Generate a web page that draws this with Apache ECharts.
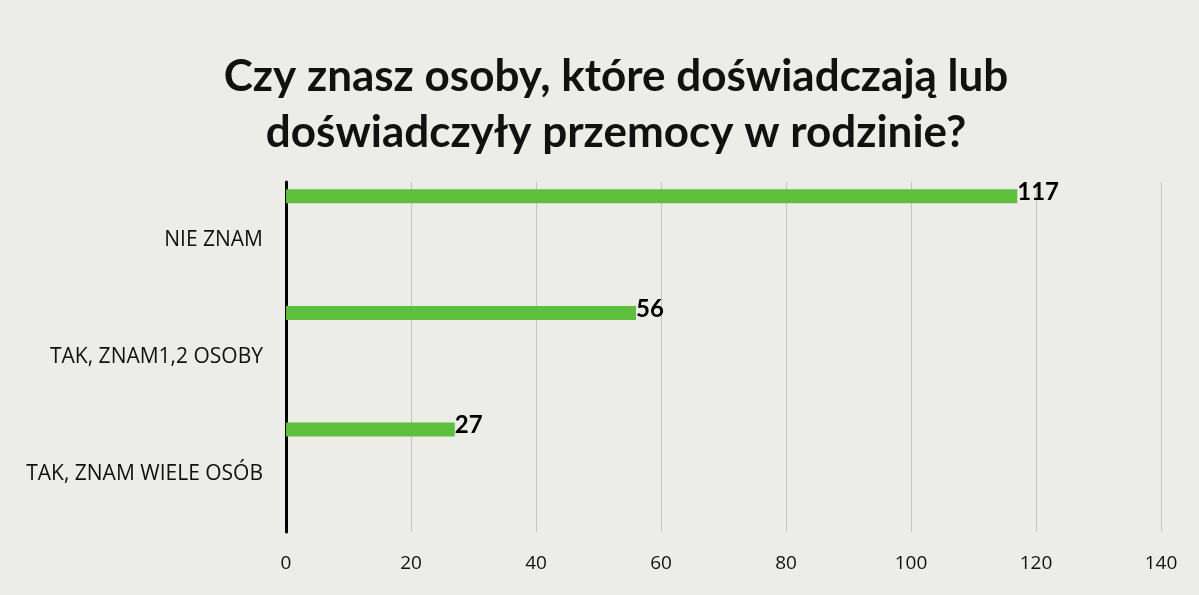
<!DOCTYPE html>
<html>
<head>
<meta charset="utf-8">
<script src="https://cdn.jsdelivr.net/npm/echarts@6/dist/echarts.min.js"></script>
<style>
  html, body { margin: 0; padding: 0; background: #ecece9; }
  #chart { width: 1199px; height: 595px; }
</style>
</head>
<body>
<div id="chart"></div>
<script>
const titleText = 'Czy znasz osoby, które doświadczają lub\ndoświadczyły przemocy w rodzinie?';
const categories = ['NIE ZNAM', 'TAK, ZNAM1,2 OSOBY', 'TAK, ZNAM WIELE OSÓB'];
const answers = [117, 56, 27];
const xTicks = { min: 0, max: 140, step: 20 };

let chart = echarts.init(document.getElementById('chart'));

let option = {
  backgroundColor: '#ecece9',
  title: {
    text: titleText,
    left: 611,
    textAlign: 'center',
    top: 44,
    textStyle: {
      fontFamily: 'Lato',
      fontWeight: 'bold',
      fontSize: 44,
      lineHeight: 56,
      color: '#111'
    }
  },
  grid: { left: 286, right: 38, top: 182, bottom: 63 },
  xAxis: {
    type: 'value',
    min: xTicks.min,
    max: xTicks.max,
    interval: xTicks.step,
    axisLine: { show: false },
    axisTick: { show: false },
    axisLabel: { fontFamily: 'Open Sans', fontSize: 19, color: '#111', margin: 22 },
    splitLine: { lineStyle: { color: '#c4c4c2', width: 1 } }
  },
  yAxis: {
    type: 'category',
    inverse: true,
    data: categories,
    axisLine: { lineStyle: { color: '#000', width: 3 } },
    axisTick: { show: false },
    axisLabel: { fontFamily: 'Open Sans', fontSize: 21, color: '#111', margin: 23 }
  },
  series: [{
    type: 'bar',
    data: answers,
    barWidth: 14,
    barGap: '530%',
    itemStyle: { color: '#5dbf3b' },
    label: {
      show: true,
      position: 'right',
      distance: 0,
      offset: [0, -4],
      fontFamily: 'Lato',
      fontWeight: 'bold',
      fontSize: 24,
      color: '#000'
    },
    z: 1
  }, {
    // empty slot so the real bar sits near the top of each band
    type: 'bar',
    data: categories.map(() => '-'),
    barWidth: 14
  }]
};
chart.setOption(option);
</script>
</body>
</html>
